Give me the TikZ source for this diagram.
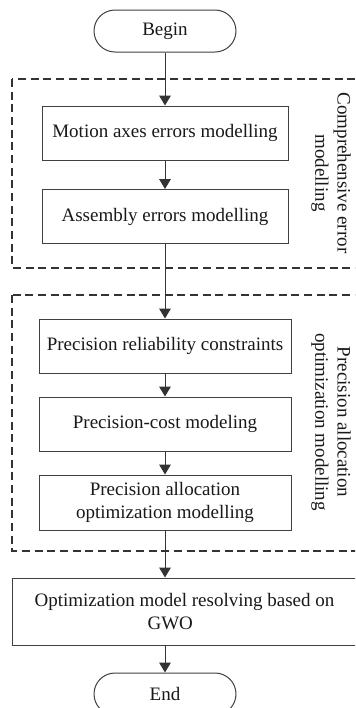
\documentclass[tikz,border=0pt]{standalone}
\usepackage{fontspec}
\setmainfont{Liberation Serif}
\usetikzlibrary{arrows.meta}

\tikzset{
  stage/.style={draw=black!75,line width=0.6pt,minimum width=147.6pt,minimum height=32.4pt,
    inner sep=2pt,align=center,text=black!90},
  terminal/.style={stage,rounded corners=12.6pt,minimum width=85.2pt,minimum height=25.2pt},
  group/.style={draw=black!80,line width=1pt,dash pattern=on 4.8pt off 2.8pt},
  grouplabel/.style={rotate=-90,align=center,text=black!90},
}

\begin{document}
\begin{tikzpicture}[x=0.6pt,y=-0.6pt,>={Triangle[width=7pt,length=6pt]},
    font=\fontsize{11.4}{13.4}\selectfont]
  \clip (0,0) rectangle (355,708);
  \fill[white] (0,0) rectangle (355,708);

  % dashed frames for the two modelling stages
  \draw[group] (12,79) rectangle (362,268);
  \draw[group] (12,295) rectangle (362,551);
  \node[grouplabel] (lblerr) at (331,173) {Comprehensive error\\modelling};
  \node[grouplabel] (lblopt) at (331,422) {Precision allocation\\optimization modelling};

  \node[terminal] (begin) at (165,31) {Begin};
  \node[stage] (motion) at (165,133) {Motion axes errors modelling};
  \node[stage] (assembly) at (165,216.5) {Assembly errors modelling};
  \node[stage,minimum width=151.2pt] (reliab) at (165,346) {Precision reliability constraints};
  \node[stage,minimum width=151.2pt] (cost) at (165,424) {Precision-cost modeling};
  \node[stage,minimum width=151.2pt,minimum height=33pt] (alloc) at (165,502.5)
    {Precision allocation\\optimization modelling};
  \node[stage,minimum width=207pt,minimum height=40.2pt] (gwo) at (184.5,611.5)
    {Optimization model resolving based on\\GWO\hspace*{1.5em}};
  \node[terminal] (end) at (165,694) {End};

  \draw[->,black!80,line width=0.6pt] (begin) -- (motion);
  \draw[->,black!80,line width=0.6pt] (motion) -- (assembly);
  \draw[->,black!80,line width=0.6pt] (assembly) -- (reliab);
  \draw[->,black!80,line width=0.6pt] (reliab) -- (cost);
  \draw[->,black!80,line width=0.6pt] (cost) -- (alloc);
  \draw[->,black!80,line width=0.6pt] (alloc.south) -- (alloc.south |- gwo.north);
  \draw[->,black!80,line width=0.6pt] (end.north |- gwo.south) -- (end);
\end{tikzpicture}
\end{document}
